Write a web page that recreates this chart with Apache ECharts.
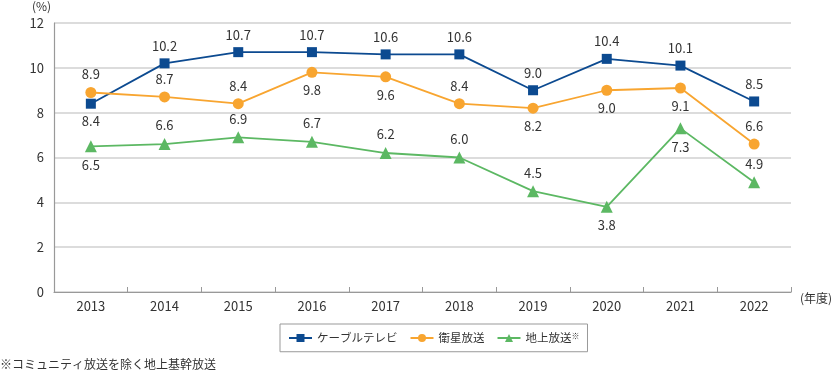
<!DOCTYPE html>
<html><head><meta charset="utf-8">
<script src="https://cdn.jsdelivr.net/npm/echarts@6/dist/echarts.min.js"></script>
<style>html,body{margin:0;padding:0;background:#fff}#c{width:833px;height:378px}</style>
</head><body><div id="c"></div>
<script>
const years = ['2013','2014','2015','2016','2017','2018','2019','2020','2021','2022'];
const yTicks = [0,2,4,6,8,10,12];
const cable = [8.4,10.2,10.7,10.7,10.6,10.6,9.0,10.4,10.1,8.5];
const satellite = [8.9,8.7,8.4,9.8,9.6,8.4,8.2,9.0,9.1,6.6];
const terrestrial = [6.5,6.6,6.9,6.7,6.2,6.0,4.5,3.8,7.3,4.9];
const cablePos = ['bottom','top','top','top','top','top','top','top','top','top'];
const satPos = ['top','top','top','bottom','bottom','top','bottom','bottom','bottom','top'];
const terPos = ['bottom','top','top','top','top','top','top','bottom','bottom','top'];
const names = ['ケーブルテレビ','衛星放送','地上放送※'];
const colors = ['#0c4a90','#f8a530','#5cb863'];
const FONT = '"Noto Sans CJK JP","Noto Sans",sans-serif';
function mk(vals, pos){return vals.map((v,i)=>({value:v,label:{position:pos[i]}}));}
const chart = echarts.init(document.getElementById('c'));
const lbl = {show:true,fontSize:13,color:'#333',fontFamily:FONT,distance:6,formatter:p=>p.value.toFixed(1)};
chart.setOption({
  animation:false,
  textStyle:{fontFamily:FONT},
  grid:{left:54,right:42,top:23,bottom:86},
  legend:{
    data:names, top:324, left:280,
    borderColor:'#999', borderWidth:1, padding:[8,8], itemGap:12,
    itemWidth:23, itemHeight:10,
    formatter:n=>n.endsWith('※')?n.slice(0,-1)+'{s|※}':n,
    textStyle:{fontSize:11.5,color:'#333',fontFamily:FONT,
      rich:{s:{fontSize:8,color:'#333',verticalAlign:'top',padding:[0,0,4,0]}}}
  },
  xAxis:{type:'category',data:years,boundaryGap:true,
    axisLine:{lineStyle:{color:'#999',width:1.2}},
    axisTick:{show:true,inside:true,length:5,lineStyle:{color:'#999'}},
    axisLabel:{fontSize:13,color:'#333',margin:8,fontFamily:FONT}},
  yAxis:{type:'value',min:0,max:12,interval:2,
    axisLine:{show:true,lineStyle:{color:'#999',width:1.2}},
    axisTick:{show:false},
    splitLine:{lineStyle:{color:'#d0d0d0',width:1.5}},
    axisLabel:{fontSize:13,color:'#333',margin:10,fontFamily:FONT}},
  graphic:[
    {type:'text',left:32,top:0,style:{text:'(%)',fontSize:12,fill:'#333',fontFamily:FONT}},
    {type:'text',left:800,top:292,style:{text:'(年度)',fontSize:12,fill:'#333',fontFamily:FONT}},
    {type:'text',left:0,top:358,style:{text:'※コミュニティ放送を除く地上基幹放送',fontSize:12,fill:'#333',fontFamily:FONT}}
  ],
  series:[
    {name:names[0],type:'line',data:mk(cable,cablePos),color:colors[0],symbol:'rect',symbolSize:10,
      lineStyle:{width:1.8},itemStyle:{color:colors[0]},label:lbl},
    {name:names[1],type:'line',data:mk(satellite,satPos),color:colors[1],symbol:'circle',symbolSize:11,
      lineStyle:{width:1.8},itemStyle:{color:colors[1]},label:lbl},
    {name:names[2],type:'line',data:mk(terrestrial,terPos),color:colors[2],symbol:'triangle',symbolSize:12,
      lineStyle:{width:1.8},itemStyle:{color:colors[2]},label:lbl}
  ]
});
</script></body></html>
